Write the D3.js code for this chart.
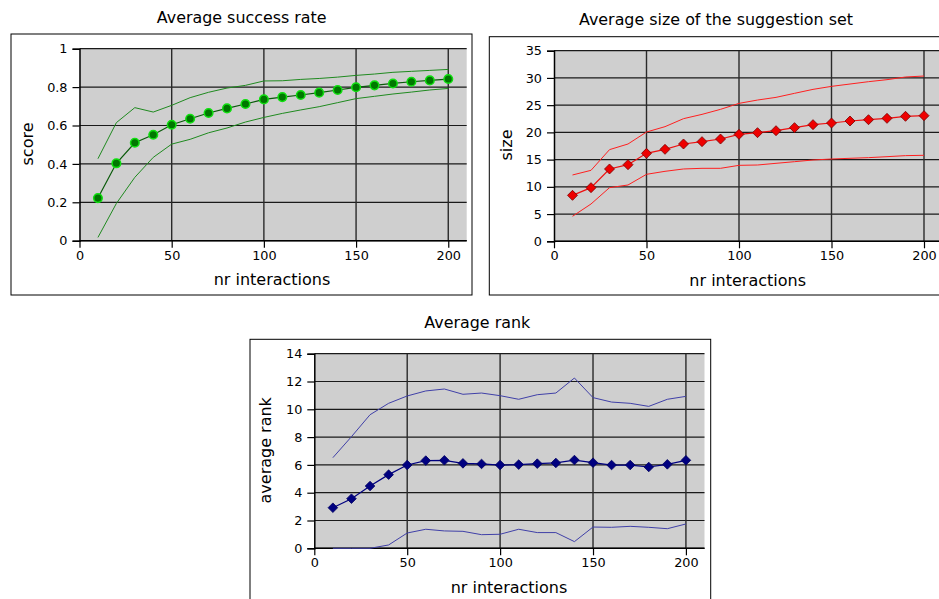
<!DOCTYPE html>
<html lang="en">
<head>
<meta charset="utf-8">
<title>Average success rate, size and rank</title>
<script src="https://d3js.org/d3.v7.min.js"></script>
<style>
  body { margin: 0; background: #fff; }
  svg { width: 939px; height: 599px; display: block; }
  text { font-family: "DejaVu Sans", sans-serif; fill: #000; }
  .title { font-size: 15.9px; }
  .axtitle { font-size: 16px; }
  .tick text { font-size: 12.8px; }
</style>
</head>
<body>
<svg></svg>
<script>
// interactions (x axis, same for all three charts)
const interactions = [10,20,30,40,50,60,70,80,90,100,110,120,130,140,150,160,170,180,190,200];
const xTicks = [0, 50, 100, 150, 200];

// Average success rate
const successMean  = [0.222,0.403,0.510,0.552,0.604,0.635,0.665,0.689,0.712,0.736,0.748,0.759,0.771,0.785,0.799,0.809,0.819,0.828,0.835,0.842];
const successUpper = [0.427,0.615,0.693,0.670,0.705,0.745,0.773,0.795,0.809,0.832,0.833,0.840,0.845,0.852,0.861,0.868,0.877,0.882,0.887,0.892];
const successLower = [0.017,0.194,0.330,0.434,0.503,0.528,0.562,0.587,0.618,0.642,0.663,0.681,0.698,0.719,0.740,0.752,0.764,0.774,0.785,0.793];
const successTicks = [0, 0.2, 0.4, 0.6, 0.8, 1];

// Average size of the suggestion set
const sizeMean  = [8.44,9.85,13.28,14.07,16.15,16.89,17.87,18.30,18.78,19.64,19.95,20.31,20.87,21.42,21.72,22.09,22.33,22.58,22.95,23.07];
const sizeUpper = [12.18,13.03,16.83,17.87,20.07,21.05,22.52,23.31,24.23,25.33,25.94,26.43,27.17,27.90,28.45,28.88,29.31,29.68,30.17,30.35];
const sizeLower = [4.59,6.85,9.85,10.34,12.30,12.85,13.28,13.40,13.40,13.95,14.01,14.32,14.62,14.93,15.11,15.24,15.36,15.54,15.73,15.79];
const sizeTicks = [0, 5, 10, 15, 20, 25, 30, 35];

// Average rank
const rankMean  = [2.92,3.57,4.48,5.30,5.99,6.31,6.33,6.11,6.07,5.99,6.02,6.09,6.14,6.35,6.16,5.99,5.99,5.85,6.04,6.33];
const rankUpper = [6.52,8.03,9.61,10.43,10.96,11.32,11.46,11.08,11.17,10.98,10.72,11.05,11.17,12.25,10.84,10.52,10.43,10.21,10.72,10.93];
const rankLower = [0,0,0,0.24,1.10,1.37,1.25,1.22,0.98,1.01,1.37,1.13,1.13,0.48,1.53,1.51,1.58,1.51,1.41,1.75];
const rankTicks = [0, 2, 4, 6, 8, 10, 12, 14];

const svg = d3.select("svg");

function drawPanel(p) {
  const g = svg.append("g");

  // frame around the chart
  g.append("rect")
    .attr("x", p.box[0]).attr("y", p.box[1])
    .attr("width", p.box[2]).attr("height", p.box[3])
    .attr("fill", "#fff").attr("stroke", "#000").attr("stroke-width", 1);

  const x = d3.scaleLinear().domain([0, 210]).range([p.left, p.right]);
  const y = d3.scaleLinear().domain(p.yDomain).range([p.bottom, p.top]);

  g.append("rect")
    .attr("x", p.left).attr("y", p.top)
    .attr("width", p.right - p.left).attr("height", p.bottom - p.top)
    .attr("fill", "#cfcfcf");

  // grid
  g.selectAll(".hgrid").data(p.yTicks).enter().append("line")
    .attr("x1", p.left).attr("x2", p.right)
    .attr("y1", d => y(d)).attr("y2", d => y(d))
    .attr("stroke", "#1a1a1a").attr("stroke-width", 1.2);
  g.selectAll(".vgrid").data(xTicks.slice(1)).enter().append("line")
    .attr("x1", d => x(d)).attr("x2", d => x(d))
    .attr("y1", p.top).attr("y2", p.bottom)
    .attr("stroke", "#2a2a2a").attr("stroke-width", 1.4);

  // axes
  const ax = g.append("g").attr("transform", "translate(0," + p.bottom + ")")
    .call(d3.axisBottom(x).tickValues(xTicks).tickSize(7).tickPadding(3).tickFormat(d3.format("")));
  const ay = g.append("g").attr("transform", "translate(" + p.left + ",0)")
    .call(d3.axisLeft(y).tickValues(p.yTicks).tickSize(7).tickPadding(5).tickFormat(d3.format("")));
  [ax, ay].forEach(a => {
    a.select(".domain").attr("stroke", "#000").attr("stroke-width", 1.5);
    a.selectAll(".tick line").attr("stroke", "#000").attr("stroke-width", 1.2);
    a.selectAll(".tick text").attr("fill", "#000").style("font-family", "DejaVu Sans");
  });
  ax.select(".domain").attr("d", "M" + p.left + ",0H" + p.right);

  const line = d3.line().x((d, i) => x(interactions[i])).y(d => y(d));

  [p.upper, p.lower].forEach(s => {
    g.append("path").attr("d", line(s))
      .attr("fill", "none").attr("stroke", p.boundColor).attr("stroke-width", 1);
  });
  g.append("path").attr("d", line(p.mean))
    .attr("fill", "none").attr("stroke", p.meanColor).attr("stroke-width", 1.2);

  const pts = g.selectAll(".pt").data(p.mean).enter();
  if (p.marker === "circle") {
    pts.append("circle")
      .attr("cx", (d, i) => x(interactions[i])).attr("cy", d => y(d))
      .attr("r", 4.3)
      .attr("fill", p.markerFill).attr("stroke", p.markerStroke).attr("stroke-width", 1.5);
  } else {
    const s = p.markerSize;
    pts.append("path")
      .attr("d", "M0," + (-s) + "L" + s + ",0L0," + s + "L" + (-s) + ",0Z")
      .attr("transform", (d, i) => "translate(" + x(interactions[i]) + "," + y(d) + ")")
      .attr("fill", p.markerFill).attr("stroke", p.markerStroke).attr("stroke-width", 0.8);
  }

  // titles
  svg.append("text").attr("class", "title")
    .attr("x", p.titlePos[0]).attr("y", p.titlePos[1])
    .attr("text-anchor", "middle").text(p.title);
  svg.append("text").attr("class", "axtitle")
    .attr("x", p.xLabelPos[0]).attr("y", p.xLabelPos[1])
    .attr("text-anchor", "middle").text("nr interactions");
  svg.append("text").attr("class", "axtitle")
    .attr("transform", "translate(" + p.yLabelPos[0] + "," + p.yLabelPos[1] + ") rotate(-90)")
    .attr("text-anchor", "middle").text(p.yLabel);
}

drawPanel({
  title: "Average success rate", yLabel: "score",
  box: [11, 34, 461, 261],
  left: 79.5, right: 466.7, top: 48.7, bottom: 240.7,
  yDomain: [0, 1], yTicks: successTicks,
  mean: successMean, upper: successUpper, lower: successLower,
  meanColor: "#0a5a0a", boundColor: "#1f8a1f",
  marker: "circle", markerFill: "#007800", markerStroke: "#10e010",
  titlePos: [241.7, 23], xLabelPos: [272, 284.5], yLabelPos: [33, 144]
});

drawPanel({
  title: "Average size of the suggestion set", yLabel: "size",
  box: [489.3, 36.7, 480, 258.3],
  left: 554, right: 942.5, top: 50.7, bottom: 241.3,
  yDomain: [0, 35], yTicks: sizeTicks,
  mean: sizeMean, upper: sizeUpper, lower: sizeLower,
  meanColor: "#ee1010", boundColor: "#ff2020",
  marker: "diamond", markerSize: 5, markerFill: "#ee0000", markerStroke: "#7a0000",
  titlePos: [716, 24.5], xLabelPos: [747.7, 285.5], yLabelPos: [512, 145]
});

drawPanel({
  title: "Average rank", yLabel: "average rank",
  box: [250, 339.3, 460.7, 300],
  left: 314.3, right: 704.5, top: 353.7, bottom: 548.3,
  yDomain: [0, 14], yTicks: rankTicks,
  mean: rankMean, upper: rankUpper, lower: rankLower,
  meanColor: "#000080", boundColor: "#4040a8",
  marker: "diamond", markerSize: 4.8, markerFill: "#000080", markerStroke: "#000060",
  titlePos: [477.3, 327.5], xLabelPos: [509, 592.5], yLabelPos: [271, 450.3]
});
</script>
</body>
</html>
